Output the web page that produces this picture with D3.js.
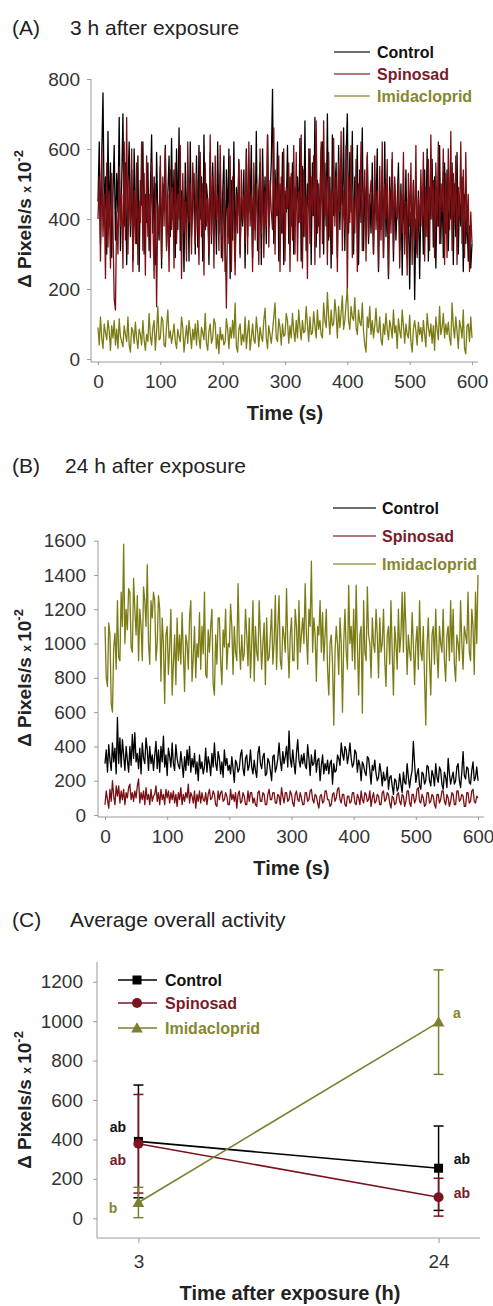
<!DOCTYPE html>
<html>
<head>
<meta charset="utf-8">
<script src="https://cdn.jsdelivr.net/npm/d3@7"></script>
<style>
  body { margin: 0; background: #fff; }
  text { font-family: "Liberation Sans", Arial, sans-serif; }
</style>
</head>
<body>
<div id="chart"></div>
<script>
// ---- data ----
// (A) 3 h after exposure, one reading every 2 s (0..600 s)
var ctrl3h = [
  450, 620, 330, 580, 760, 410, 520, 300, 650, 380, 560, 290, 470, 610, 340, 530, 420, 690, 310, 500,
  700, 380, 560, 270, 490, 620, 350, 540, 280, 600, 420, 330, 580, 250, 510, 440, 620, 300, 470, 390,
  560, 310, 480, 640, 360, 520, 270, 590, 410, 340, 550, 260, 500, 430, 610, 320, 470, 580, 350, 630,
  400, 540, 290, 600, 370, 660, 310, 480, 420, 250, 560, 390, 500, 280, 620, 350, 450, 530, 300, 580,
  320, 610, 400, 520, 280, 640, 370, 500, 450, 270, 590, 330, 560, 410, 480, 300, 620, 360, 530, 290,
  470, 580, 250, 540, 390, 600, 230, 510, 340, 620, 280, 490, 410, 570, 300, 460, 380, 540, 260, 600,
  350, 530, 420, 610, 290, 500, 370, 650, 310, 480, 560, 270, 600, 400, 520, 330, 640, 380, 460, 560,
  770, 330, 540, 410, 620, 280, 500, 360, 590, 270, 480, 420, 610, 330, 520, 380, 560, 300, 490, 430,
  520, 390, 630, 280, 550, 350, 680, 310, 500, 430, 600, 270, 560, 410, 690, 320, 510, 380, 470, 600,
  620, 300, 560, 380, 700, 340, 520, 260, 640, 410, 480, 560, 290, 610, 370, 530, 440, 660, 310, 580,
  700, 360, 590, 420, 650, 300, 520, 440, 610, 270, 540, 390, 660, 310, 490, 400, 580, 330, 470, 360,
  560, 300, 510, 420, 600, 250, 480, 370, 540, 290, 620, 350, 460, 230, 520, 400, 570, 280, 500, 340,
  450, 560, 310, 500, 240, 470, 380, 540, 290, 460, 200, 420, 350, 510, 170, 400, 300, 480, 230, 440,
  460, 300, 540, 350, 600, 280, 490, 400, 570, 320, 520, 260, 470, 380, 610, 330, 500, 290, 560, 360,
  540, 310, 480, 400, 560, 270, 500, 350, 590, 300, 460, 380, 520, 250, 470, 330, 420, 280, 380, 260,
  330];
var spin3h = [
  400, 520, 280, 600, 350, 470, 230, 560, 320, 480, 260, 530, 380, 170, 140, 420, 300, 550, 380, 470,
  260, 620, 340, 690, 300, 510, 380, 600, 250, 480, 330, 560, 270, 450, 390, 620, 310, 530, 240, 580,
  350, 470, 290, 560, 400, 230, 500, 150, 440, 360, 580, 290, 520, 380, 600, 310, 470, 250, 540, 370,
  490, 260, 560, 330, 470, 400, 610, 230, 530, 360, 450, 280, 620, 390, 500, 300, 560, 420, 330, 530,
  410, 270, 590, 350, 500, 240, 560, 380, 460, 300, 640, 350, 520, 260, 580, 400, 470, 310, 610, 380,
  280, 500, 360, 146, 430, 330, 580, 250, 520, 400, 240, 470, 360, 560, 290, 540, 400, 470, 330, 590,
  300, 620, 380, 470, 250, 560, 340, 500, 410, 270, 600, 360, 520, 290, 480, 380, 640, 320, 510, 420,
  370, 660, 300, 500, 410, 580, 250, 520, 360, 600, 280, 490, 430, 560, 250, 530, 340, 610, 300, 590,
  280, 480, 390, 640, 260, 540, 350, 470, 230, 600, 330, 520, 410, 580, 270, 680, 360, 500, 290, 620,
  330, 680, 410, 520, 270, 590, 350, 480, 300, 630, 380, 520, 250, 560, 420, 650, 310, 480, 370, 610,
  190, 520, 390, 610, 290, 460, 360, 570, 250, 500, 420, 620, 310, 470, 540, 280, 590, 350, 460, 510,
  430, 300, 580, 370, 480, 260, 550, 340, 620, 290, 500, 400, 570, 240, 480, 360, 590, 310, 520, 420,
  400, 510, 260, 470, 360, 590, 300, 450, 240, 530, 380, 560, 270, 500, 340, 610, 290, 460, 380, 540,
  380, 590, 280, 490, 350, 570, 310, 640, 400, 510, 290, 560, 380, 620, 330, 500, 420, 600, 270, 530,
  290, 600, 370, 650, 310, 530, 390, 580, 270, 490, 400, 620, 330, 540, 290, 590, 360, 470, 250, 420,
  330];
var imid3h = [
  90, 40, 120, 60, 30, 100, 75, 55, 110, 80, 25, 95, 60, 110, 40, 85, 30, 115, 65, 50,
  35, 95, 70, 50, 120, 40, 20, 90, 80, 45, 105, 60, 30, 85, 70, 40, 110, 55, 25, 70,
  50, 130, 65, 40, 90, 110, 25, 80, 150, 55, 60, 120, 110, 40, 35, 95, 140, 60, 80, 45,
  70, 100, 50, 30, 85, 65, 50, 120, 90, 20, 60, 95, 45, 110, 75, 30, 85, 55, 100, 40,
  110, 60, 30, 90, 75, 55, 130, 45, 25, 80, 100, 45, 60, 115, 100, 30, 70, 15, 90, 55,
  70, 40, 50, 115, 85, 30, 90, 60, 110, 60, 160, 35, 20, 85, 100, 40, 70, 50, 120, 30,
  75, 110, 25, 60, 100, 55, 45, 120, 80, 35, 90, 65, 50, 110, 145, 60, 30, 95, 70, 45,
  80, 120, 160, 60, 50, 115, 90, 40, 100, 65, 70, 130, 110, 45, 95, 60, 130, 80, 50, 110,
  60, 140, 90, 55, 110, 75, 80, 150, 100, 50, 120, 70, 75, 135, 95, 60, 140, 85, 110, 70,
  60, 160, 110, 90, 190, 120, 70, 140, 95, 100, 170, 130, 60, 150, 90, 130, 180, 85, 110, 160,
  200, 110, 85, 150, 120, 110, 175, 90, 70, 140, 105, 95, 160, 80, 40, 20, 120, 90, 150, 70,
  110, 60, 95, 145, 80, 75, 120, 55, 40, 100, 70, 130, 85, 55, 110, 90, 60, 140, 75, 95,
  30, 115, 80, 60, 140, 95, 45, 100, 70, 60, 125, 50, 20, 85, 110, 80, 40, 105, 70, 90,
  50, 110, 70, 35, 130, 90, 65, 100, 45, 95, 25, 120, 85, 55, 150, 70, 90, 130, 60, 100,
  70, 105, 60, 40, 160, 95, 60, 120, 80, 30, 110, 90, 60, 140, 30, 15, 95, 100, 50, 120,
  60];

// (B) 24 h after exposure, one reading every 2 s
var ctrl24h = [
  300, 380, 250, 410, 320, 260, 420, 310, 390, 240, 570, 300, 450, 280, 440, 350, 260, 400, 320, 250,
  400, 290, 470, 330, 480, 310, 360, 270, 390, 240, 420, 330, 300, 450, 380, 260, 400, 300, 350, 260,
  350, 430, 270, 380, 250, 400, 310, 460, 280, 350, 230, 390, 340, 280, 420, 300, 260, 410, 330, 290,
  270, 370, 300, 220, 340, 260, 380, 290, 400, 250, 330, 280, 360, 240, 310, 200, 350, 270, 310, 240,
  280, 390, 250, 340, 300, 230, 360, 280, 420, 300, 260, 370, 330, 240, 310, 220, 380, 290, 330, 260,
  290, 240, 340, 270, 190, 320, 300, 250, 270, 350, 380, 270, 230, 330, 350, 260, 290, 380, 280, 240,
  320, 260, 220, 360, 400, 300, 270, 340, 360, 230, 240, 330, 310, 260, 200, 340, 350, 250, 280, 330,
  420, 320, 260, 370, 300, 340, 400, 280, 490, 330, 280, 380, 300, 240, 360, 440, 320, 280, 350, 300,
  360, 290, 270, 410, 330, 230, 350, 290, 300, 380, 250, 320, 330, 200, 290, 350, 240, 300, 260, 320,
  240, 300, 320, 180, 300, 250, 260, 350, 330, 290, 420, 360, 320, 400, 380, 300, 350, 420, 330, 280,
  300, 380, 360, 250, 320, 290, 200, 310, 290, 250, 230, 340, 330, 260, 180, 290, 260, 320, 240, 200,
  220, 300, 250, 170, 250, 200, 210, 280, 150, 220, 230, 170, 120, 210, 200, 140, 160, 240, 180, 130,
  250, 190, 180, 300, 220, 160, 220, 260, 430, 300, 190, 240, 270, 170, 150, 250, 240, 180, 200, 290,
  280, 200, 170, 260, 230, 170, 300, 220, 190, 280, 260, 180, 150, 250, 220, 160, 330, 240, 180, 220,
  250, 180, 200, 280, 300, 200, 160, 250, 370, 230, 210, 280, 270, 190, 180, 260, 310, 200, 220, 280,
  200];
var spin24h = [
  60, 140, 90, 40, 150, 80, 200, 110, 60, 170, 110, 170, 70, 140, 90, 150, 60, 130, 100, 160,
  180, 90, 130, 80, 140, 100, 170, 210, 70, 130, 90, 140, 60, 160, 90, 120, 60, 150, 80, 110,
  120, 170, 80, 130, 60, 150, 90, 120, 60, 150, 100, 140, 70, 130, 90, 140, 70, 120, 50, 130,
  90, 160, 60, 120, 80, 130, 100, 180, 70, 130, 110, 70, 140, 40, 120, 80, 140, 70, 130, 90,
  80, 130, 60, 120, 150, 90, 100, 140, 120, 60, 50, 140, 90, 130, 140, 80, 90, 130, 110, 60,
  60, 150, 90, 120, 80, 130, 40, 120, 140, 70, 80, 130, 110, 60, 60, 140, 80, 130, 130, 70,
  100, 60, 50, 130, 140, 80, 80, 130, 120, 60, 60, 120, 150, 90, 90, 130, 130, 70, 70, 120,
  110, 60, 160, 110, 70, 130, 130, 80, 90, 140, 120, 70, 50, 120, 140, 90, 80, 130, 100, 60,
  60, 130, 130, 80, 90, 140, 150, 90, 70, 120, 110, 70, 40, 110, 120, 70, 80, 140, 140, 90,
  90, 50, 60, 120, 130, 80, 100, 150, 160, 90, 70, 120, 120, 60, 50, 110, 110, 70, 80, 130,
  130, 70, 60, 120, 100, 60, 140, 90, 70, 130, 120, 80, 90, 140, 50, 100, 130, 70, 80, 120,
  110, 60, 60, 130, 140, 80, 90, 130, 120, 70, 40, 110, 100, 60, 70, 120, 130, 80, 60, 120,
  110, 50, 80, 140, 140, 70, 50, 120, 120, 70, 90, 150, 160, 80, 70, 120, 100, 50, 60, 130,
  130, 70, 80, 120, 110, 60, 40, 120, 120, 70, 90, 140, 140, 80, 60, 120, 100, 50, 80, 130,
  120, 60, 60, 140, 140, 80, 90, 120, 110, 50, 50, 130, 130, 70, 80, 140, 150, 80, 70, 110,
  100];
var imid24h = [
  1100, 800, 750, 1120, 1050, 650, 600, 980, 1060, 850, 1250, 920, 900, 1300, 1100, 1580, 1000, 1200, 1080, 1320,
  1300, 980, 950, 1380, 1200, 1050, 1280, 900, 1200, 1100, 900, 1330, 1250, 1100, 1460, 1000, 880, 1250, 1150, 1300,
  1250, 900, 1000, 1280, 1200, 780, 1150, 1000, 650, 1050, 1100, 820, 980, 1200, 700, 880, 1050, 760, 1150, 900,
  1050, 880, 1180, 950, 720, 1050, 1000, 850, 1150, 1250, 780, 920, 1100, 800, 1000, 920, 1180, 850, 1100, 940,
  1300, 820, 800, 1080, 950, 1100, 1200, 760, 700, 1050, 880, 1150, 1150, 900, 760, 1080, 980, 1200, 850, 1000,
  980, 1230, 1100, 820, 1100, 950, 900, 1350, 1000, 850, 1050, 900, 940, 1200, 1050, 870, 1150, 800, 1000, 1250,
  780, 1100, 950, 900, 1250, 1050, 850, 1000, 1120, 760, 1150, 900, 920, 1050, 1200, 880, 1000, 1280, 850, 1100,
  1280, 900, 850, 1100, 1050, 950, 1320, 1000, 800, 1050, 1150, 900, 900, 1200, 1100, 850, 1250, 950, 1050, 1150,
  1000, 1350, 1050, 880, 1200, 1100, 1480, 950, 1150, 1050, 780, 1100, 1050, 1250, 950, 1180, 900, 1050, 1200, 850,
  700, 1000, 1050, 880, 524, 950, 1100, 1000, 820, 1150, 1000, 600, 1000, 1200, 950, 850, 1340, 1000, 1100, 900,
  1200, 850, 1340, 1000, 700, 1050, 1100, 594, 1250, 950, 900, 1330, 1050, 1000, 800, 1150, 1000, 950, 1200, 1050,
  800, 1150, 950, 1000, 1200, 900, 750, 1050, 1100, 880, 1250, 950, 700, 1100, 1000, 850, 1200, 950, 1050, 1300,
  950, 1300, 1100, 820, 1050, 950, 900, 1180, 1000, 760, 1000, 1100, 850, 1250, 950, 900, 1100, 800, 524, 980,
  1150, 900, 700, 1050, 1100, 880, 1200, 950, 800, 1100, 1000, 950, 1200, 900, 780, 1050, 1100, 900, 1250, 950,
  1200, 880, 780, 1050, 1000, 900, 1250, 1000, 850, 1100, 1050, 1000, 1300, 950, 900, 1200, 1100, 820, 1300, 1000,
  1400];

// (C) average overall activity
var hours = ["3", "24"];
var ctrlMean = [390, 254];
var ctrlErr = [286, 214];
var spinMean = [378, 107];
var spinErr = [250, 96];
var imidMean = [80, 995];
var imidErr = [77, 265];
var ctrlLetters = ["ab", "ab"];
var spinLetters = ["ab", "ab"];
var imidLetters = ["b", "a"];

var names = ["Control", "Spinosad", "Imidacloprid"];
var colors = ["#000000", "#7a0f14", "#7c7c14"];
var textColors = ["#111111", "#7a1a2a", "#86862e"];

// ---- svg ----
var svgWidth = 493;
var svgHeight = 1306;

var svg = d3.select("#chart")
  .append("svg")
  .attr("width", svgWidth)
  .attr("height", svgHeight)
  .style("background", "#fff");

var axisColor = "#9a9a9a";
var fmt = d3.format("d");

function panelTitle(y, letter, label, labelX) {
  svg.append("text")
    .attr("x", 12).attr("y", y)
    .attr("font-size", "21px").attr("fill", "#222")
    .text(letter);
  svg.append("text")
    .attr("x", labelX).attr("y", y)
    .attr("font-size", "21px").attr("fill", "#222")
    .text(label);
}

function yTitle(cy) {
  var t = svg.append("text")
    .attr("transform", `translate(31, ${cy}) rotate(-90)`)
    .attr("text-anchor", "middle")
    .attr("font-size", "19px")
    .attr("font-weight", "bold")
    .attr("fill", "#222");
  t.append("tspan").text("\u0394 Pixels/s ");
  t.append("tspan").attr("font-size", "12px").text("x ");
  t.append("tspan").text("10");
  t.append("tspan").attr("font-size", "13px").attr("dy", -8).text("-2");
}

function styleAxis(g) {
  g.select(".domain").remove();
  g.selectAll(".tick line").attr("stroke", axisColor);
  g.selectAll(".tick text").attr("font-size", "19px").attr("fill", "#333");
}

function legendLines(x1, x2, tx, ys) {
  names.forEach(function(n, i) {
    svg.append("line")
      .attr("x1", x1).attr("x2", x2)
      .attr("y1", ys[i]).attr("y2", ys[i])
      .attr("stroke", colors[i])
      .attr("stroke-opacity", 0.75)
      .attr("stroke-width", 1.3);
    svg.append("text")
      .attr("x", tx).attr("y", ys[i])
      .attr("dy", "0.35em")
      .attr("font-size", "16px")
      .attr("font-weight", "bold")
      .attr("fill", textColors[i])
      .text(n);
  });
}

// time series panel
function tracePanel(cfg) {
  var x = d3.scaleLinear().domain([0, 600]).range(cfg.xRange);
  var y = d3.scaleLinear().domain(cfg.yDomain).range(cfg.yRange);

  // axis lines
  svg.append("line")
    .attr("x1", cfg.axisX).attr("x2", cfg.axisX)
    .attr("y1", cfg.yRange[1]).attr("y2", cfg.axisY)
    .attr("stroke", axisColor);
  svg.append("line")
    .attr("x1", cfg.axisX).attr("x2", cfg.xRange[1] + 6)
    .attr("y1", cfg.axisY).attr("y2", cfg.axisY)
    .attr("stroke", axisColor);

  var leftAxis = d3.axisLeft(y).tickValues(cfg.yTicks).tickFormat(fmt)
    .tickSize(4).tickPadding(cfg.yPad);
  svg.append("g")
    .attr("transform", `translate(${cfg.axisX},0)`)
    .call(leftAxis)
    .call(styleAxis);

  var bottomAxis = d3.axisBottom(x).tickValues([0, 100, 200, 300, 400, 500, 600])
    .tickFormat(fmt).tickSize(3).tickPadding(10);
  svg.append("g")
    .attr("transform", `translate(0,${cfg.axisY})`)
    .call(bottomAxis)
    .call(styleAxis);

  svg.append("text")
    .attr("x", (cfg.xRange[0] + cfg.xRange[1]) / 2)
    .attr("y", cfg.axisY + 58)
    .attr("text-anchor", "middle")
    .attr("font-size", "20px")
    .attr("font-weight", "bold")
    .attr("fill", "#222")
    .text("Time (s)");

  cfg.series.forEach(function(vals, i) {
    var step = 600 / (vals.length - 1);
    var line = d3.line()
      .x((d, j) => x(j * step))
      .y(d => y(d));
    svg.append("path")
      .datum(vals)
      .attr("d", line)
      .attr("fill", "none")
      .attr("stroke", colors[i])
      .attr("stroke-width", 1.3)
      .attr("stroke-linejoin", "round");
  });
}

// (A)
panelTitle(35, "(A)", "3 h after exposure", 70);
tracePanel({
  xRange: [98, 472], yDomain: [0, 800], yRange: [359, 79],
  axisX: 91, axisY: 362, yPad: 7,
  yTicks: [0, 200, 400, 600, 800],
  series: [ctrl3h, spin3h, imid3h]
});
yTitle(219);
legendLines(334, 370, 377, [52, 74, 96]);

// (B)
panelTitle(473, "(B)", "24 h after exposure", 65);
tracePanel({
  xRange: [105, 478], yDomain: [0, 1600], yRange: [815, 540.7],
  axisX: 98, axisY: 817, yPad: 8,
  yTicks: [0, 200, 400, 600, 800, 1000, 1200, 1400, 1600],
  series: [ctrl24h, spin24h, imid24h]
});
yTitle(678);
legendLines(333, 376, 382, [508, 536, 564]);

// (C)
panelTitle(927, "(C)", "Average overall activity", 70);

var xC = d3.scalePoint().domain(hours).range([97, 480]).padding(0.138);
var yC = d3.scaleLinear().domain([-100, 1300]).range([1238, 962]);

svg.append("line")
  .attr("x1", 97).attr("x2", 97).attr("y1", 962).attr("y2", 1238)
  .attr("stroke", axisColor);
svg.append("line")
  .attr("x1", 97).attr("x2", 480).attr("y1", 1238).attr("y2", 1238)
  .attr("stroke", axisColor);

svg.append("g")
  .attr("transform", "translate(97,0)")
  .call(d3.axisLeft(yC).tickValues([0, 200, 400, 600, 800, 1000, 1200])
    .tickFormat(fmt).tickSize(4).tickPadding(10))
  .call(styleAxis);
svg.append("g")
  .attr("transform", "translate(0,1238)")
  .call(d3.axisBottom(xC).tickSize(5).tickPadding(12))
  .call(styleAxis);

svg.append("text")
  .attr("x", 290).attr("y", 1300)
  .attr("text-anchor", "middle")
  .attr("font-size", "20px")
  .attr("font-weight", "bold")
  .attr("fill", "#222")
  .text("Time after exposure (h)");
yTitle(1100);

var cSeries = [
  {mean: ctrlMean, err: ctrlErr, letters: ctrlLetters},
  {mean: spinMean, err: spinErr, letters: spinLetters},
  {mean: imidMean, err: imidErr, letters: imidLetters}
];
var cColors = ["#000000", "#7a1420", "#7c8030"];

function marker(g, i, cx, cy) {
  if (i === 0) {
    g.append("rect").attr("x", cx - 4.5).attr("y", cy - 4.5)
      .attr("width", 9).attr("height", 9).attr("fill", cColors[0]);
  } else if (i === 1) {
    g.append("circle").attr("cx", cx).attr("cy", cy).attr("r", 5)
      .attr("fill", cColors[1]);
  } else {
    g.append("path")
      .attr("d", d3.symbol().type(d3.symbolTriangle).size(60)())
      .attr("transform", `translate(${cx},${cy + 1})`)
      .attr("fill", cColors[2]);
  }
}

var lineC = d3.line().x((d, j) => xC(hours[j])).y(d => yC(d));

// error bars first
cSeries.forEach(function(s, i) {
  s.mean.forEach(function(m, j) {
    var cx = xC(hours[j]);
    svg.append("line")
      .attr("x1", cx).attr("x2", cx)
      .attr("y1", yC(m - s.err[j])).attr("y2", yC(m + s.err[j]))
      .attr("stroke", cColors[i]).attr("stroke-width", 1.5);
    [m - s.err[j], m + s.err[j]].forEach(function(v) {
      svg.append("line")
        .attr("x1", cx - 5).attr("x2", cx + 5)
        .attr("y1", yC(v)).attr("y2", yC(v))
        .attr("stroke", cColors[i]).attr("stroke-width", 1.5);
    });
  });
});

cSeries.forEach(function(s, i) {
  svg.append("path")
    .datum(s.mean)
    .attr("d", lineC)
    .attr("fill", "none")
    .attr("stroke", cColors[i])
    .attr("stroke-width", 1.6);
  s.mean.forEach(function(m, j) {
    marker(svg, i, xC(hours[j]), yC(m));
  });
});

// letters next to the points
var letterPos = [
  [[118, 1127], [462, 1159]],
  [[118, 1160], [462, 1193]],
  [[113, 1208], [457, 1013]]
];
cSeries.forEach(function(s, i) {
  s.letters.forEach(function(l, j) {
    svg.append("text")
      .attr("x", letterPos[i][j][0]).attr("y", letterPos[i][j][1])
      .attr("dy", "0.35em")
      .attr("text-anchor", "middle")
      .attr("font-size", "14px")
      .attr("font-weight", "bold")
      .attr("fill", textColors[i])
      .text(l);
  });
});

// legend (C)
[980, 1003, 1028].forEach(function(ly, i) {
  svg.append("line")
    .attr("x1", 118).attr("x2", 157).attr("y1", ly).attr("y2", ly)
    .attr("stroke", cColors[i]).attr("stroke-width", 1.6);
  marker(svg, i, 137, ly);
  svg.append("text")
    .attr("x", 165).attr("y", ly)
    .attr("dy", "0.35em")
    .attr("font-size", "16px")
    .attr("font-weight", "bold")
    .attr("fill", textColors[i])
    .text(names[i]);
});
</script>
</body>
</html>
